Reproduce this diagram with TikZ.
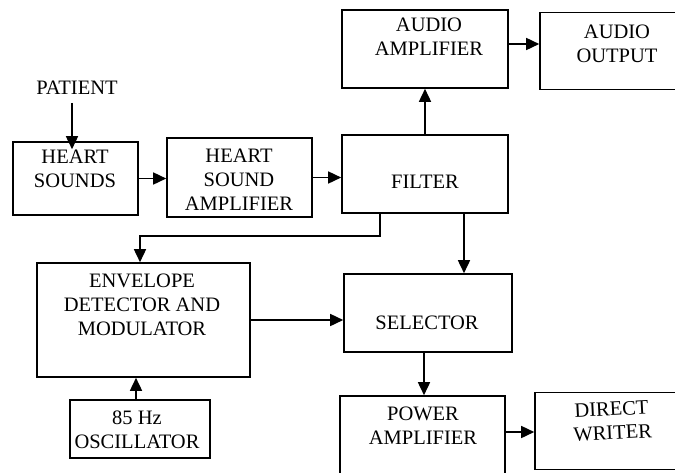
\documentclass[tikz,border=0pt]{standalone}
\usepackage{fontspec}
\setmainfont{Liberation Serif}
\usetikzlibrary{arrows.meta}
\begin{document}
\begin{tikzpicture}[x=1pt,y=-1pt,
  box/.style={draw,line width=1.6pt,inner sep=0pt,anchor=center},
  txt/.style={inner sep=0pt,align=center,font=\fontsize{20.5}{24}\selectfont},
  arr/.style={line width=1.6pt,-{Triangle[length=13pt,width=12pt]}}]
\useasboundingbox (0,0) rectangle (675,472);
\clip (0,0) rectangle (675,472);
% boxes
\node[box,minimum width=125,minimum height=73] (hs) at (75.5,178.5) {};
\node[box,minimum width=145,minimum height=79] (hsa) at (239.5,177.5) {};
\node[box,minimum width=166,minimum height=78] (filter) at (425,174) {};
\node[box,minimum width=166,minimum height=78] (aa) at (425,49) {};
\node[box,minimum width=160,minimum height=77] (ao) at (620,51) {};
\node[box,minimum width=213,minimum height=114] (env) at (143.5,320) {};
\node[box,minimum width=140,minimum height=58] (osc) at (140,429) {};
\node[box,minimum width=168,minimum height=78] (sel) at (428,313) {};
\node[box,minimum width=165,minimum height=104] (pa) at (422.5,448) {};
\node[box,minimum width=165,minimum height=77] (dw) at (617.5,431) {};
% texts
\node[txt] (pat) at (77,88) {PATIENT};
\node[txt] (hst) at (75,169) {HEART\\SOUNDS};
\node[txt] (hsat) at (239,179.5) {HEART\\SOUND\\AMPLIFIER};
\node[txt] (filtert) at (425,182) {FILTER};
\node[txt] (aat) at (429,37) {AUDIO\\AMPLIFIER};
\node[txt] (aot) at (617,43.5) {AUDIO\\OUTPUT};
\node[txt] (envt) at (142,305) {ENVELOPE\\DETECTOR AND\\MODULATOR};
\node[txt] (osct) at (137,430) {85 Hz\\OSCILLATOR};
\node[txt] (selt) at (427,323) {SELECTOR};
\node[txt] (pat2) at (423,426) {POWER\\AMPLIFIER};
\node[txt,rotate=3] (dwt) at (612,421) {DIRECT\\WRITER};
% connectors
\draw[arr] ([xshift=-5pt,yshift=-8pt]pat.south) -- ([xshift=-5pt,yshift=-8pt]pat.south |- hs.north);
\draw[arr] (hs.east) -- (hs.east -| hsa.west);
\draw[arr] (hsa.east) -- (hsa.east -| filter.west);
\draw[arr] (filter.north) -- (aa.south);
\draw[arr] ([yshift=5pt]aa.east) -- ([yshift=5pt]aa.east -| ao.west);
\draw[arr] ([xshift=-45pt]filter.south) -- ++(0,22) -| ([xshift=-3.5pt]env.north);
\draw[arr] ([xshift=39pt]filter.south) -- ([xshift=39pt]filter.south |- sel.north);
\draw[arr] (env.east) -- (env.east -| sel.west);
\draw[arr] ([xshift=-4pt]osc.north) -- ([xshift=-4pt]osc.north |- env.south);
\draw[arr] ([xshift=-4pt]sel.south) -- ([xshift=-4pt]sel.south |- pa.north);
\draw[arr] ([yshift=16pt]pa.east) -- ([yshift=16pt]pa.east -| dw.west);
\end{tikzpicture}
\end{document}
